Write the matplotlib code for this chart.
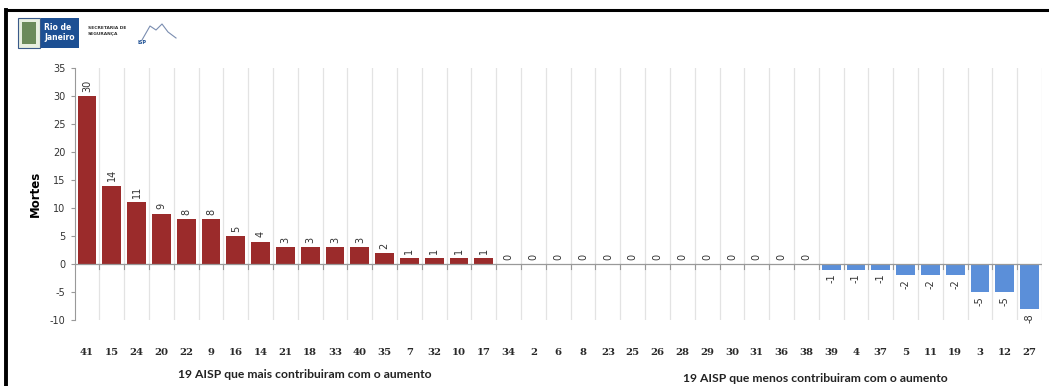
import numpy as np
import matplotlib.pyplot as plt
from matplotlib.patches import Rectangle
from matplotlib.lines import Line2D

plt.rcParams['axes.unicode_minus'] = False

aisp = ['41', '15', '24', '20', '22', '9', '16', '14', '21', '18', '33', '40', '35',
        '7', '32', '10', '17', '34', '2', '6', '8', '23', '25', '26', '28', '29',
        '30', '31', '36', '38', '39', '4', '37', '5', '11', '19', '3', '12', '27']
mortes = [30, 14, 11, 9, 8, 8, 5, 4, 3, 3, 3, 3, 2,
          1, 1, 1, 1, 0, 0, 0, 0, 0, 0, 0, 0, 0,
          0, 0, 0, 0, -1, -1, -1, -2, -2, -2, -5, -5, -8]
grupo_mais = '19 AISP que mais contribuiram com o aumento'
grupo_menos = '19 AISP que menos contribuiram com o aumento'

red = '#9b2b2b'
blue = '#5b8fd9'

fig = plt.figure(figsize=(10.49, 3.86), dpi=100)
ax = fig.add_axes([0.0711, 0.171, 0.9222, 0.653])

x = np.arange(len(aisp))
vals = np.array(mortes)
colors = [red if v >= 0 else blue for v in vals]
ax.bar(x, vals, width=0.76, color=colors, zorder=3)

# value labels, rotated like the original spreadsheet export
for xi, v in zip(x, vals):
    if v >= 0:
        ax.annotate(str(v), (xi, v), xytext=(0, 3), textcoords='offset points',
                    ha='center', va='bottom', rotation=90, fontsize=7, color='#333333')
    else:
        ax.annotate(str(v), (xi, v), xytext=(0, -3), textcoords='offset points',
                    ha='center', va='top', rotation=90, fontsize=7, color='#333333')

ax.set_xlim(-0.5, len(aisp) - 0.5)
ax.set_ylim(-10, 35)
ax.set_yticks(np.arange(-10, 36, 5))
ax.tick_params(axis='y', labelsize=7, labelcolor='#333333', color='#999999',
               length=3, width=0.8)
ax.set_ylabel('Mortes', fontsize=8.5, fontweight='bold', labelpad=6)

# vertical separators between AISPs
for b in np.arange(-0.5, len(aisp), 1.0)[1:]:
    ax.axvline(b, color='#e3e3e3', lw=0.9, zorder=1)
    ax.plot([b, b], [0, -0.9], color='#999999', lw=0.8, zorder=2)
ax.axhline(0, color='#999999', lw=0.9, zorder=4)

ax.set_xticks(x)
ax.set_xticklabels(aisp, fontsize=7.3, fontweight='bold', family='DejaVu Serif',
                   color='#2a2a2a')
ax.tick_params(axis='x', length=0, pad=20)

for s in ['top', 'right', 'bottom']:
    ax.spines[s].set_visible(False)
ax.spines['left'].set_color('#999999')
ax.spines['left'].set_linewidth(0.8)

fig.text(305 / 1049, 1 - 375 / 386, grupo_mais, ha='center', va='center',
         fontsize=8.7, fontweight='bold', family='Lato', color='#222222')
fig.text(815 / 1049, 1 - 378 / 386, grupo_menos, ha='center', va='center',
         fontsize=8.7, fontweight='bold', family='Lato', color='#222222')

# page frame (top and left edges)
fig.add_artist(Line2D([6 / 1049, 1.0], [1 - 10 / 386, 1 - 10 / 386], color='black',
                      lw=2.2, transform=fig.transFigure))
fig.add_artist(Line2D([6 / 1049, 6 / 1049], [0, 1 - 10 / 386], color='black',
                      lw=2.8, transform=fig.transFigure))

# header logos
def px(x0, y0, w, h, **kw):
    fig.add_artist(Rectangle((x0 / 1049, 1 - (y0 + h) / 386), w / 1049, h / 386,
                             transform=fig.transFigure, **kw))

px(18, 18, 22, 30, facecolor='#e8efe0', edgecolor='#3a5a8a', lw=0.8)
px(22, 22, 14, 22, facecolor='#6b8a5a', edgecolor='none')
px(41, 18, 38, 30, facecolor='#1c4f93', edgecolor='none')
fig.text(44 / 1049, 1 - 27 / 386, 'Rio de', fontsize=5.5, color='white',
         fontweight='bold', va='center')
fig.text(44 / 1049, 1 - 38 / 386, 'Janeiro', fontsize=5.5, color='white',
         fontweight='bold', va='center')
fig.text(88 / 1049, 1 - 28 / 386, 'SECRETARIA DE', fontsize=3.2, color='#333333',
         fontweight='bold', va='center')
fig.text(88 / 1049, 1 - 34 / 386, 'SEGURANÇA', fontsize=3.2, color='#333333',
         fontweight='bold', va='center')
fig.add_artist(Line2D(np.array([142, 150, 156, 162, 168, 176]) / 1049,
                      1 - np.array([40, 26, 30, 24, 32, 38]) / 386,
                      color='#7a8db0', lw=0.8, transform=fig.transFigure))
fig.text(138 / 1049, 1 - 42 / 386, 'ISP', fontsize=3.5, color='#1c4f93',
         fontweight='bold', va='center')

fig.savefig('out.png', dpi=100, facecolor='white')
